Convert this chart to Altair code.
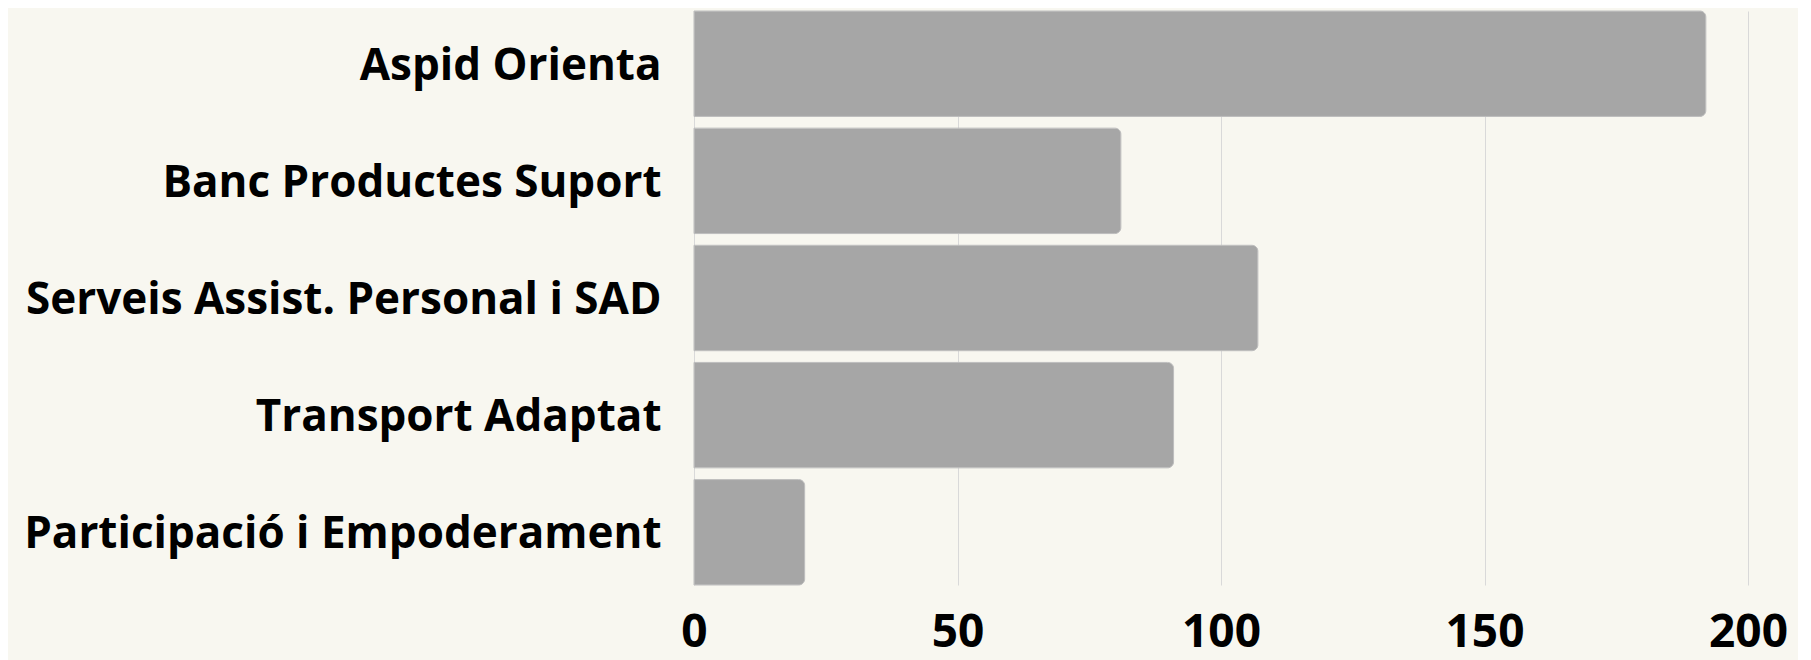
import altair as alt
import pandas as pd

categories = ["Aspid Orienta\u00a0", "Banc Productes Suport", "Serveis Assist. Personal i SAD",
              "Transport Adaptat", "Participació i Empoderament"]
values = [192, 81, 107, 91, 21]
x_ticks = [0, 50, 100, 150, 200]

df = pd.DataFrame({"categoria": categories, "valor": values})

chart = alt.Chart(df).mark_bar(
    color="#a6a6a6", cornerRadiusEnd=6, stroke="#bdbdbd", strokeWidth=1
).encode(
    y=alt.Y("categoria:N", sort=categories, title=None,
            scale=alt.Scale(paddingInner=0.1, paddingOuter=0),
            axis=alt.Axis(labelFont="Open Sans", labelFontWeight="bold", labelFontSize=44,
                          labelColor="#000000", labelPadding=33, ticks=False, domain=False,
                          labelLimit=0, labelOffset=3)),
    x=alt.X("valor:Q", title=None, scale=alt.Scale(domain=[0, 200], nice=False),
            axis=alt.Axis(values=x_ticks, labelFont="Open Sans", labelFontWeight="bold",
                          labelFontSize=46, labelColor="#000000", labelPadding=61,
                          labelBaseline="alphabetic", labelFlush=False,
                          ticks=False, domain=False, grid=True, gridColor="#d9d9d9",
                          gridWidth=1)),
).properties(
    width=1054, height=574,
    autosize=alt.AutoSizeParams(type="none"),
    padding={"left": 686, "top": 3, "right": 50, "bottom": 82},
    background="#f8f7f0",
).configure_view(stroke=None)

chart.save("out.html", embed_options={"renderer": "svg", "actions": False})
